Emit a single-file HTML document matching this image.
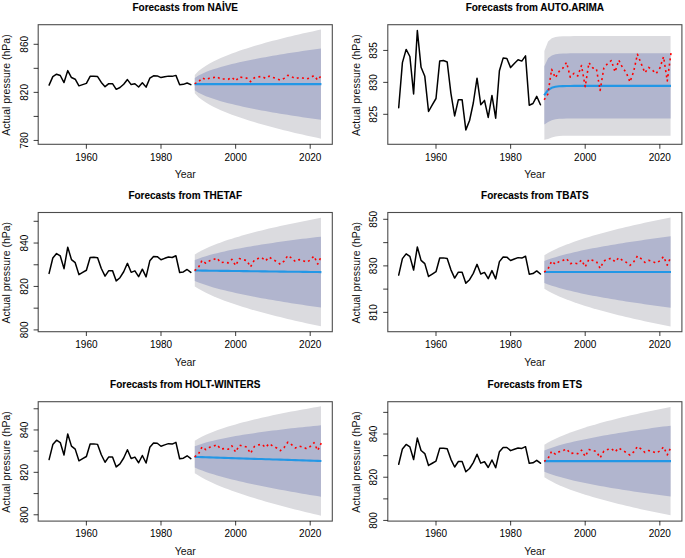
<!DOCTYPE html><html><head><meta charset="utf-8"><style>html,body{margin:0;padding:0;background:#fff;}svg{display:block;}text{font-family:"Liberation Sans",sans-serif;}</style></head><body>
<svg width="685" height="558" viewBox="0 0 685 558">
<rect width="685" height="558" fill="#fff"/>
<polygon fill="#DBDBDF" points="194.78,74.88 198.49,71.06 202.2,68.13 205.91,65.66 209.62,63.48 213.33,61.52 217.04,59.71 220.75,58.02 224.47,56.44 228.18,54.94 231.89,53.52 235.6,52.16 239.31,50.86 243.02,49.6 246.73,48.39 250.44,47.22 254.16,46.08 257.87,44.98 261.58,43.91 265.29,42.87 269,41.85 272.71,40.85 276.42,39.88 280.13,38.93 283.85,38 287.56,37.09 291.27,36.19 294.98,35.31 298.69,34.45 302.4,33.6 306.11,32.77 309.82,31.94 313.53,31.14 317.25,30.34 320.96,29.55 320.96,138.65 317.25,137.86 313.53,137.06 309.82,136.26 306.11,135.43 302.4,134.6 298.69,133.75 294.98,132.89 291.27,132.01 287.56,131.11 283.85,130.2 280.13,129.27 276.42,128.32 272.71,127.35 269,126.35 265.29,125.33 261.58,124.29 257.87,123.22 254.16,122.12 250.44,120.98 246.73,119.81 243.02,118.6 239.31,117.34 235.6,116.04 231.89,114.68 228.18,113.26 224.47,111.76 220.75,110.18 217.04,108.49 213.33,106.68 209.62,104.72 205.91,102.54 202.2,100.07 198.49,97.14 194.78,93.32"/>
<polygon fill="#B1B5CE" points="194.78,78.07 198.49,75.57 202.2,73.66 205.91,72.04 209.62,70.62 213.33,69.33 217.04,68.15 220.75,67.04 224.47,66.01 228.18,65.03 231.89,64.1 235.6,63.21 239.31,62.36 243.02,61.54 246.73,60.75 250.44,59.98 254.16,59.24 257.87,58.52 261.58,57.82 265.29,57.13 269,56.47 272.71,55.82 276.42,55.18 280.13,54.56 283.85,53.95 287.56,53.35 291.27,52.77 294.98,52.19 298.69,51.63 302.4,51.07 306.11,50.53 309.82,49.99 313.53,49.46 317.25,48.94 320.96,48.43 320.96,119.77 317.25,119.26 313.53,118.74 309.82,118.21 306.11,117.67 302.4,117.13 298.69,116.57 294.98,116.01 291.27,115.43 287.56,114.85 283.85,114.25 280.13,113.64 276.42,113.02 272.71,112.38 269,111.73 265.29,111.07 261.58,110.38 257.87,109.68 254.16,108.96 250.44,108.22 246.73,107.45 243.02,106.66 239.31,105.84 235.6,104.99 231.89,104.1 228.18,103.17 224.47,102.19 220.75,101.16 217.04,100.05 213.33,98.87 209.62,97.58 205.91,96.16 202.2,94.54 198.49,92.63 194.78,90.13"/>
<polyline fill="none" stroke="#2297E6" stroke-width="2.1" stroke-linejoin="round" points="194.58,84.1 198.31,84.1 202.04,84.1 205.77,84.1 209.5,84.1 213.23,84.1 216.96,84.1 220.69,84.1 224.42,84.1 228.15,84.1 231.88,84.1 235.61,84.1 239.34,84.1 243.07,84.1 246.8,84.1 250.53,84.1 254.26,84.1 257.99,84.1 261.72,84.1 265.45,84.1 269.18,84.1 272.91,84.1 276.64,84.1 280.37,84.1 284.1,84.1 287.83,84.1 291.56,84.1 295.3,84.1 299.03,84.1 302.76,84.1 306.49,84.1 310.22,84.1 313.95,84.1 317.68,84.1 321.41,84.1"/>
<polyline fill="none" stroke="#000" stroke-width="1.5" stroke-linejoin="round" stroke-linecap="round" points="49.09,85.16 52.82,76.66 56.55,74.17 60.28,75.51 64.01,82.55 67.74,70.63 71.47,77.54 75.2,79.23 78.94,85.86 82.67,84.62 86.4,83.41 90.13,76.34 93.86,76.26 97.59,76.54 101.32,82.43 105.05,86.69 108.78,83.64 112.51,83.64 116.24,89.32 119.97,87.55 123.7,84.26 127.43,79.59 131.16,84.58 134.89,83.77 138.62,86.97 142.35,82.83 146.08,87.12 149.81,78.2 153.54,75.81 157.27,75.88 161,77.6 164.73,76.82 168.46,76.13 172.19,76.37 175.92,75.39 179.65,84.67 183.38,84.35 187.12,83 190.85,84.6"/>
<polyline fill="none" stroke="#FF0000" stroke-width="1.6" stroke-dasharray="2.0 3.3" stroke-linejoin="round" points="194.58,83.62 198.31,82.11 202.04,77.95 205.77,79.55 209.5,78.22 213.23,77.6 216.96,76.67 220.69,79.21 224.42,78.93 228.15,79.33 231.88,77.37 235.61,80.85 239.34,76.97 243.07,77.56 246.8,78.09 250.53,81.64 254.26,77.84 257.99,76.96 261.72,76.43 265.45,78.27 269.18,76.13 272.91,77.54 276.64,78.56 280.37,80.14 284.1,78.35 287.83,75.3 291.56,76.69 295.3,78.61 299.03,77.56 302.76,78.05 306.49,78.97 310.22,77.78 313.95,75.58 317.68,79.99 321.41,75.58"/>
<rect x="38.2" y="24.7" width="294.1" height="119.6" fill="none" stroke="#000" stroke-width="1.1" stroke-opacity="0.7"/>
<line x1="86.4" y1="144.3" x2="86.4" y2="148.7" stroke="#000" stroke-width="1.1" stroke-opacity="0.7"/>
<text x="86.4" y="160.5" font-size="10" text-anchor="middle" fill="#000">1960</text>
<line x1="161" y1="144.3" x2="161" y2="148.7" stroke="#000" stroke-width="1.1" stroke-opacity="0.7"/>
<text x="161" y="160.5" font-size="10" text-anchor="middle" fill="#000">1980</text>
<line x1="235.61" y1="144.3" x2="235.61" y2="148.7" stroke="#000" stroke-width="1.1" stroke-opacity="0.7"/>
<text x="235.61" y="160.5" font-size="10" text-anchor="middle" fill="#000">2000</text>
<line x1="310.22" y1="144.3" x2="310.22" y2="148.7" stroke="#000" stroke-width="1.1" stroke-opacity="0.7"/>
<text x="310.22" y="160.5" font-size="10" text-anchor="middle" fill="#000">2020</text>
<line x1="33.6" y1="140.48" x2="38.2" y2="140.48" stroke="#000" stroke-width="1.1" stroke-opacity="0.7"/>
<text x="27.8" y="140.48" font-size="10" text-anchor="middle" fill="#000" transform="rotate(-90 27.8 140.48)">780</text>
<line x1="33.6" y1="116.44" x2="38.2" y2="116.44" stroke="#000" stroke-width="1.1" stroke-opacity="0.7"/>
<line x1="33.6" y1="92.4" x2="38.2" y2="92.4" stroke="#000" stroke-width="1.1" stroke-opacity="0.7"/>
<text x="27.8" y="92.4" font-size="10" text-anchor="middle" fill="#000" transform="rotate(-90 27.8 92.4)">820</text>
<line x1="33.6" y1="68.36" x2="38.2" y2="68.36" stroke="#000" stroke-width="1.1" stroke-opacity="0.7"/>
<line x1="33.6" y1="44.32" x2="38.2" y2="44.32" stroke="#000" stroke-width="1.1" stroke-opacity="0.7"/>
<text x="27.8" y="44.32" font-size="10" text-anchor="middle" fill="#000" transform="rotate(-90 27.8 44.32)">860</text>
<text x="185.25" y="178.4" font-size="10.5" text-anchor="middle" fill="#111">Year</text>
<text x="10.2" y="85.1" font-size="10.5" text-anchor="middle" fill="#111" transform="rotate(-90 10.2 85.1)">Actual pressure (hPa)</text>
<text x="185.25" y="11.1" font-size="10" font-weight="bold" text-anchor="middle" fill="#000" stroke="#000" stroke-width="0.1">Forecasts from NAİVE</text>
<polygon fill="#DBDBDF" points="544.38,50.93 548.09,41.41 551.8,38.23 555.51,37.01 559.22,36.5 562.93,36.28 566.64,36.18 570.35,36.14 574.07,36.12 577.78,36.11 581.49,36.1 585.2,36.1 588.91,36.1 592.62,36.1 596.33,36.1 600.04,36.1 603.76,36.1 607.47,36.1 611.18,36.1 614.89,36.1 618.6,36.1 622.31,36.1 626.02,36.1 629.73,36.1 633.45,36.1 637.16,36.1 640.87,36.1 644.58,36.1 648.29,36.1 652,36.1 655.71,36.1 659.42,36.1 663.13,36.1 666.85,36.1 670.56,36.1 670.56,135.7 666.85,135.7 663.13,135.7 659.42,135.7 655.71,135.7 652,135.7 648.29,135.7 644.58,135.7 640.87,135.7 637.16,135.7 633.45,135.7 629.73,135.7 626.02,135.7 622.31,135.7 618.6,135.7 614.89,135.7 611.18,135.7 607.47,135.7 603.76,135.7 600.04,135.7 596.33,135.7 592.62,135.7 588.91,135.7 585.2,135.7 581.49,135.7 577.78,135.71 574.07,135.72 570.35,135.74 566.64,135.78 562.93,135.87 559.22,136.08 555.51,136.52 551.8,137.42 548.09,138.94 544.38,139.87"/>
<polygon fill="#B1B5CE" points="544.38,66.31 548.09,58.28 551.8,55.39 555.51,54.22 559.22,53.73 562.93,53.51 566.64,53.41 570.35,53.37 574.07,53.35 577.78,53.34 581.49,53.33 585.2,53.33 588.91,53.33 592.62,53.33 596.33,53.33 600.04,53.33 603.76,53.33 607.47,53.33 611.18,53.33 614.89,53.33 618.6,53.33 622.31,53.33 626.02,53.33 629.73,53.33 633.45,53.33 637.16,53.33 640.87,53.33 644.58,53.33 648.29,53.33 652,53.33 655.71,53.33 659.42,53.33 663.13,53.33 666.85,53.33 670.56,53.33 670.56,118.47 666.85,118.47 663.13,118.47 659.42,118.47 655.71,118.47 652,118.47 648.29,118.47 644.58,118.47 640.87,118.47 637.16,118.47 633.45,118.47 629.73,118.47 626.02,118.47 622.31,118.47 618.6,118.47 614.89,118.47 611.18,118.47 607.47,118.47 603.76,118.47 600.04,118.47 596.33,118.47 592.62,118.47 588.91,118.47 585.2,118.47 581.49,118.47 577.78,118.48 574.07,118.49 570.35,118.5 566.64,118.55 562.93,118.64 559.22,118.85 555.51,119.31 551.8,120.26 548.09,122.07 544.38,124.49"/>
<polyline fill="none" stroke="#2297E6" stroke-width="2.1" stroke-linejoin="round" points="544.18,95.4 547.91,90.18 551.64,87.82 555.37,86.77 559.1,86.29 562.83,86.08 566.56,85.98 570.29,85.94 574.02,85.92 577.75,85.91 581.48,85.9 585.21,85.9 588.94,85.9 592.67,85.9 596.4,85.9 600.13,85.9 603.86,85.9 607.59,85.9 611.32,85.9 615.05,85.9 618.78,85.9 622.51,85.9 626.24,85.9 629.97,85.9 633.7,85.9 637.43,85.9 641.16,85.9 644.9,85.9 648.63,85.9 652.36,85.9 656.09,85.9 659.82,85.9 663.55,85.9 667.28,85.9 671.01,85.9"/>
<polyline fill="none" stroke="#000" stroke-width="1.5" stroke-linejoin="round" stroke-linecap="round" points="398.69,107.8 402.42,62.6 406.15,49.4 409.88,56.5 413.61,93.9 417.34,30.6 421.07,67.3 424.8,76.3 428.54,111.5 432.27,104.9 436,98.5 439.73,60.9 443.46,60.5 447.19,62 450.92,93.3 454.65,115.9 458.38,99.7 462.11,99.7 465.84,129.9 469.57,120.5 473.3,103 477.03,78.2 480.76,104.7 484.49,100.4 488.22,117.4 491.95,95.4 495.68,118.2 499.41,70.8 503.14,58.1 506.87,58.5 510.6,67.6 514.33,63.5 518.06,59.8 521.79,61.1 525.52,55.9 529.25,105.2 532.98,103.5 536.72,96.3 540.45,104.8"/>
<polyline fill="none" stroke="#FF0000" stroke-width="1.6" stroke-dasharray="2.0 3.3" stroke-linejoin="round" points="544.18,99.8 547.91,94 551.64,69.3 555.37,77.9 559.1,71.4 562.83,68.2 566.56,62.4 570.29,77.2 574.02,73.3 577.75,76 581.48,65.5 585.21,86.7 588.94,62.7 592.67,67.9 596.4,68.6 600.13,90.4 603.86,67.9 607.59,63.6 611.32,60.5 615.05,72 618.78,60.2 622.51,67.6 626.24,72.6 629.97,82 633.7,71.4 637.43,54.2 641.16,63.6 644.9,72.8 648.63,67.4 652.36,70.1 656.09,73.7 659.82,68.2 663.55,56.7 667.28,81 671.01,52.9"/>
<rect x="387.8" y="24.7" width="294.1" height="119.6" fill="none" stroke="#000" stroke-width="1.1" stroke-opacity="0.7"/>
<line x1="436" y1="144.3" x2="436" y2="148.7" stroke="#000" stroke-width="1.1" stroke-opacity="0.7"/>
<text x="436" y="160.5" font-size="10" text-anchor="middle" fill="#000">1960</text>
<line x1="510.6" y1="144.3" x2="510.6" y2="148.7" stroke="#000" stroke-width="1.1" stroke-opacity="0.7"/>
<text x="510.6" y="160.5" font-size="10" text-anchor="middle" fill="#000">1980</text>
<line x1="585.21" y1="144.3" x2="585.21" y2="148.7" stroke="#000" stroke-width="1.1" stroke-opacity="0.7"/>
<text x="585.21" y="160.5" font-size="10" text-anchor="middle" fill="#000">2000</text>
<line x1="659.82" y1="144.3" x2="659.82" y2="148.7" stroke="#000" stroke-width="1.1" stroke-opacity="0.7"/>
<text x="659.82" y="160.5" font-size="10" text-anchor="middle" fill="#000">2020</text>
<line x1="383.2" y1="114.34" x2="387.8" y2="114.34" stroke="#000" stroke-width="1.1" stroke-opacity="0.7"/>
<text x="377.4" y="114.34" font-size="10" text-anchor="middle" fill="#000" transform="rotate(-90 377.4 114.34)">825</text>
<line x1="383.2" y1="82.4" x2="387.8" y2="82.4" stroke="#000" stroke-width="1.1" stroke-opacity="0.7"/>
<text x="377.4" y="82.4" font-size="10" text-anchor="middle" fill="#000" transform="rotate(-90 377.4 82.4)">830</text>
<line x1="383.2" y1="50.47" x2="387.8" y2="50.47" stroke="#000" stroke-width="1.1" stroke-opacity="0.7"/>
<text x="377.4" y="50.47" font-size="10" text-anchor="middle" fill="#000" transform="rotate(-90 377.4 50.47)">835</text>
<text x="534.85" y="178.4" font-size="10.5" text-anchor="middle" fill="#111">Year</text>
<text x="359.8" y="85.1" font-size="10.5" text-anchor="middle" fill="#111" transform="rotate(-90 359.8 85.1)">Actual pressure (hPa)</text>
<text x="534.85" y="11.1" font-size="10" font-weight="bold" text-anchor="middle" fill="#000" stroke="#000" stroke-width="0.1">Forecasts from AUTO.ARIMA</text>
<polygon fill="#DBDBDF" points="194.78,254.6 198.49,252.33 202.2,250.32 205.91,248.5 209.62,246.83 213.33,245.27 217.04,243.81 220.75,242.43 224.47,241.12 228.18,239.86 231.89,238.66 235.6,237.51 239.31,236.39 243.02,235.32 246.73,234.28 250.44,233.27 254.16,232.29 257.87,231.33 261.58,230.4 265.29,229.49 269,228.61 272.71,227.74 276.42,226.89 280.13,226.06 283.85,225.25 287.56,224.45 291.27,223.67 294.98,222.9 298.69,222.14 302.4,221.4 306.11,220.67 309.82,219.95 313.53,219.24 317.25,218.54 320.96,217.86 320.96,326.34 317.25,325.56 313.53,324.77 309.82,323.97 306.11,323.15 302.4,322.33 298.69,321.49 294.98,320.64 291.27,319.78 287.56,318.9 283.85,318.01 280.13,317.1 276.42,316.18 272.71,315.24 269,314.28 265.29,313.3 261.58,312.29 257.87,311.27 254.16,310.22 250.44,309.14 246.73,308.04 243.02,306.9 239.31,305.73 235.6,304.53 231.89,303.28 228.18,301.98 224.47,300.64 220.75,299.23 217.04,297.75 213.33,296.2 209.62,294.55 205.91,292.78 202.2,290.87 198.49,288.77 194.78,286.4"/>
<polygon fill="#B1B5CE" points="194.78,260.1 198.49,258.63 202.2,257.34 205.91,256.16 209.62,255.09 213.33,254.08 217.04,253.14 220.75,252.26 224.47,251.41 228.18,250.61 231.89,249.84 235.6,249.1 239.31,248.39 243.02,247.7 246.73,247.04 250.44,246.39 254.16,245.77 257.87,245.16 261.58,244.57 265.29,243.99 269,243.43 272.71,242.88 276.42,242.34 280.13,241.81 283.85,241.3 287.56,240.79 291.27,240.29 294.98,239.81 298.69,239.33 302.4,238.86 306.11,238.4 309.82,237.95 313.53,237.5 317.25,237.06 320.96,236.63 320.96,307.57 317.25,307.05 313.53,306.51 309.82,305.97 306.11,305.42 302.4,304.87 298.69,304.31 294.98,303.73 291.27,303.15 287.56,302.56 283.85,301.96 280.13,301.35 276.42,300.73 272.71,300.1 269,299.45 265.29,298.8 261.58,298.13 257.87,297.44 254.16,296.74 250.44,296.02 246.73,295.28 243.02,294.52 239.31,293.74 235.6,292.93 231.89,292.1 228.18,291.24 224.47,290.34 220.75,289.4 217.04,288.42 213.33,287.39 209.62,286.29 205.91,285.12 202.2,283.85 198.49,282.46 194.78,280.9"/>
<polyline fill="none" stroke="#2297E6" stroke-width="2.1" stroke-linejoin="round" points="194.58,270.5 198.31,270.55 202.04,270.59 205.77,270.64 209.5,270.69 213.23,270.74 216.96,270.78 220.69,270.83 224.42,270.88 228.15,270.92 231.88,270.97 235.61,271.02 239.34,271.06 243.07,271.11 246.8,271.16 250.53,271.21 254.26,271.25 257.99,271.3 261.72,271.35 265.45,271.39 269.18,271.44 272.91,271.49 276.64,271.54 280.37,271.58 284.1,271.63 287.83,271.68 291.56,271.72 295.3,271.77 299.03,271.82 302.76,271.86 306.49,271.91 310.22,271.96 313.95,272.01 317.68,272.05 321.41,272.1"/>
<polyline fill="none" stroke="#000" stroke-width="1.5" stroke-linejoin="round" stroke-linecap="round" points="49.09,273.39 52.82,258.02 56.55,253.53 60.28,255.95 64.01,268.66 67.74,247.14 71.47,259.62 75.2,262.68 78.94,274.65 82.67,272.4 86.4,270.23 90.13,257.44 93.86,257.31 97.59,257.82 101.32,268.46 105.05,276.14 108.78,270.63 112.51,270.63 116.24,280.9 119.97,277.71 123.7,271.76 127.43,263.32 131.16,272.33 134.89,270.87 138.62,276.65 142.35,269.17 146.08,276.92 149.81,260.81 153.54,256.49 157.27,256.63 161,259.72 164.73,258.33 168.46,257.07 172.19,257.51 175.92,255.74 179.65,272.5 183.38,271.93 187.12,269.48 190.85,272.37"/>
<polyline fill="none" stroke="#FF0000" stroke-width="1.6" stroke-dasharray="2.0 3.3" stroke-linejoin="round" points="194.58,270.6 198.31,267.88 202.04,260.37 205.77,263.26 209.5,260.84 213.23,259.72 216.96,258.05 220.69,262.64 224.42,262.13 228.15,262.85 231.88,259.31 235.61,265.6 239.34,258.6 243.07,259.65 246.8,260.6 250.53,267.03 254.26,260.16 257.99,258.56 261.72,257.61 265.45,260.94 269.18,257.07 272.91,259.62 276.64,261.45 280.37,264.31 284.1,261.08 287.83,255.57 291.56,258.09 295.3,261.56 299.03,259.65 302.76,260.54 306.49,262.2 310.22,260.06 313.95,256.08 317.68,264.04 321.41,256.08"/>
<rect x="38.2" y="212.5" width="294.1" height="119.2" fill="none" stroke="#000" stroke-width="1.1" stroke-opacity="0.7"/>
<line x1="86.4" y1="331.7" x2="86.4" y2="336.1" stroke="#000" stroke-width="1.1" stroke-opacity="0.7"/>
<text x="86.4" y="347.9" font-size="10" text-anchor="middle" fill="#000">1960</text>
<line x1="161" y1="331.7" x2="161" y2="336.1" stroke="#000" stroke-width="1.1" stroke-opacity="0.7"/>
<text x="161" y="347.9" font-size="10" text-anchor="middle" fill="#000">1980</text>
<line x1="235.61" y1="331.7" x2="235.61" y2="336.1" stroke="#000" stroke-width="1.1" stroke-opacity="0.7"/>
<text x="235.61" y="347.9" font-size="10" text-anchor="middle" fill="#000">2000</text>
<line x1="310.22" y1="331.7" x2="310.22" y2="336.1" stroke="#000" stroke-width="1.1" stroke-opacity="0.7"/>
<text x="310.22" y="347.9" font-size="10" text-anchor="middle" fill="#000">2020</text>
<line x1="33.6" y1="329.9" x2="38.2" y2="329.9" stroke="#000" stroke-width="1.1" stroke-opacity="0.7"/>
<text x="27.8" y="329.9" font-size="10" text-anchor="middle" fill="#000" transform="rotate(-90 27.8 329.9)">800</text>
<line x1="33.6" y1="308.18" x2="38.2" y2="308.18" stroke="#000" stroke-width="1.1" stroke-opacity="0.7"/>
<line x1="33.6" y1="286.47" x2="38.2" y2="286.47" stroke="#000" stroke-width="1.1" stroke-opacity="0.7"/>
<text x="27.8" y="286.47" font-size="10" text-anchor="middle" fill="#000" transform="rotate(-90 27.8 286.47)">820</text>
<line x1="33.6" y1="264.75" x2="38.2" y2="264.75" stroke="#000" stroke-width="1.1" stroke-opacity="0.7"/>
<line x1="33.6" y1="243.04" x2="38.2" y2="243.04" stroke="#000" stroke-width="1.1" stroke-opacity="0.7"/>
<text x="27.8" y="243.04" font-size="10" text-anchor="middle" fill="#000" transform="rotate(-90 27.8 243.04)">840</text>
<line x1="33.6" y1="221.32" x2="38.2" y2="221.32" stroke="#000" stroke-width="1.1" stroke-opacity="0.7"/>
<text x="185.25" y="365.8" font-size="10.5" text-anchor="middle" fill="#111">Year</text>
<text x="10.2" y="272.7" font-size="10.5" text-anchor="middle" fill="#111" transform="rotate(-90 10.2 272.7)">Actual pressure (hPa)</text>
<text x="185.25" y="198.9" font-size="10" font-weight="bold" text-anchor="middle" fill="#000" stroke="#000" stroke-width="0.1">Forecasts from THETAF</text>
<polygon fill="#DBDBDF" points="544.38,255.3 548.09,253.08 551.8,251.09 555.51,249.28 559.22,247.6 562.93,246.03 566.64,244.55 570.35,243.14 574.07,241.8 577.78,240.52 581.49,239.29 585.2,238.1 588.91,236.95 592.62,235.84 596.33,234.77 600.04,233.72 603.76,232.7 607.47,231.7 611.18,230.74 614.89,229.79 618.6,228.86 622.31,227.95 626.02,227.06 629.73,226.19 633.45,225.34 637.16,224.5 640.87,223.67 644.58,222.86 648.29,222.06 652,221.28 655.71,220.5 659.42,219.74 663.13,218.99 666.85,218.25 670.56,217.52 670.56,326.48 666.85,325.75 663.13,325.01 659.42,324.26 655.71,323.5 652,322.72 648.29,321.94 644.58,321.14 640.87,320.33 637.16,319.5 633.45,318.66 629.73,317.81 626.02,316.94 622.31,316.05 618.6,315.14 614.89,314.21 611.18,313.26 607.47,312.3 603.76,311.3 600.04,310.28 596.33,309.23 592.62,308.16 588.91,307.05 585.2,305.9 581.49,304.71 577.78,303.48 574.07,302.2 570.35,300.86 566.64,299.45 562.93,297.97 559.22,296.4 555.51,294.72 551.8,292.91 548.09,290.92 544.38,288.7"/>
<polygon fill="#B1B5CE" points="544.38,261.08 548.09,259.62 551.8,258.33 555.51,257.14 559.22,256.04 562.93,255.01 566.64,254.05 570.35,253.13 574.07,252.25 577.78,251.41 581.49,250.61 585.2,249.83 588.91,249.08 592.62,248.35 596.33,247.65 600.04,246.96 603.76,246.3 607.47,245.65 611.18,245.01 614.89,244.39 618.6,243.79 622.31,243.19 626.02,242.61 629.73,242.04 633.45,241.48 637.16,240.93 640.87,240.39 644.58,239.86 648.29,239.34 652,238.83 655.71,238.32 659.42,237.82 663.13,237.33 666.85,236.85 670.56,236.37 670.56,307.63 666.85,307.15 663.13,306.67 659.42,306.18 655.71,305.68 652,305.17 648.29,304.66 644.58,304.14 640.87,303.61 637.16,303.07 633.45,302.52 629.73,301.96 626.02,301.39 622.31,300.81 618.6,300.21 614.89,299.61 611.18,298.99 607.47,298.35 603.76,297.7 600.04,297.04 596.33,296.35 592.62,295.65 588.91,294.92 585.2,294.17 581.49,293.39 577.78,292.59 574.07,291.75 570.35,290.87 566.64,289.95 562.93,288.99 559.22,287.96 555.51,286.86 551.8,285.67 548.09,284.38 544.38,282.92"/>
<polyline fill="none" stroke="#2297E6" stroke-width="2.1" stroke-linejoin="round" points="544.18,272 547.91,272 551.64,272 555.37,272 559.1,272 562.83,272 566.56,272 570.29,272 574.02,272 577.75,272 581.48,272 585.21,272 588.94,272 592.67,272 596.4,272 600.13,272 603.86,272 607.59,272 611.32,272 615.05,272 618.78,272 622.51,272 626.24,272 629.97,272 633.7,272 637.43,272 641.16,272 644.9,272 648.63,272 652.36,272 656.09,272 659.82,272 663.55,272 667.28,272 671.01,272"/>
<polyline fill="none" stroke="#000" stroke-width="1.5" stroke-linejoin="round" stroke-linecap="round" points="398.69,275.11 402.42,258.65 406.15,253.84 409.88,256.42 413.61,270.05 417.34,246.99 421.07,260.36 424.8,263.64 428.54,276.46 432.27,274.06 436,271.73 439.73,258.03 443.46,257.88 447.19,258.43 450.92,269.83 454.65,278.07 458.38,272.16 462.11,272.16 465.84,283.17 469.57,279.74 473.3,273.37 477.03,264.33 480.76,273.98 484.49,272.42 488.22,278.61 491.95,270.6 495.68,278.9 499.41,261.63 503.14,257.01 506.87,257.15 510.6,260.47 514.33,258.97 518.06,257.63 521.79,258.1 525.52,256.21 529.25,274.17 532.98,273.55 536.72,270.92 540.45,274.02"/>
<polyline fill="none" stroke="#FF0000" stroke-width="1.6" stroke-dasharray="2.0 3.3" stroke-linejoin="round" points="544.18,272.13 547.91,269.21 551.64,261.16 555.37,264.26 559.1,261.67 562.83,260.47 566.56,258.68 570.29,263.6 574.02,263.05 577.75,263.82 581.48,260.03 585.21,266.77 588.94,259.27 592.67,260.39 596.4,261.42 600.13,268.3 603.86,260.94 607.59,259.23 611.32,258.21 615.05,261.78 618.78,257.63 622.51,260.36 626.24,262.33 629.97,265.39 633.7,261.93 637.43,256.02 641.16,258.72 644.9,262.44 648.63,260.39 652.36,261.34 656.09,263.13 659.82,260.83 663.55,256.57 667.28,265.09 671.01,256.57"/>
<rect x="387.8" y="212.5" width="294.1" height="119.2" fill="none" stroke="#000" stroke-width="1.1" stroke-opacity="0.7"/>
<line x1="436" y1="331.7" x2="436" y2="336.1" stroke="#000" stroke-width="1.1" stroke-opacity="0.7"/>
<text x="436" y="347.9" font-size="10" text-anchor="middle" fill="#000">1960</text>
<line x1="510.6" y1="331.7" x2="510.6" y2="336.1" stroke="#000" stroke-width="1.1" stroke-opacity="0.7"/>
<text x="510.6" y="347.9" font-size="10" text-anchor="middle" fill="#000">1980</text>
<line x1="585.21" y1="331.7" x2="585.21" y2="336.1" stroke="#000" stroke-width="1.1" stroke-opacity="0.7"/>
<text x="585.21" y="347.9" font-size="10" text-anchor="middle" fill="#000">2000</text>
<line x1="659.82" y1="331.7" x2="659.82" y2="336.1" stroke="#000" stroke-width="1.1" stroke-opacity="0.7"/>
<text x="659.82" y="347.9" font-size="10" text-anchor="middle" fill="#000">2020</text>
<line x1="383.2" y1="312.4" x2="387.8" y2="312.4" stroke="#000" stroke-width="1.1" stroke-opacity="0.7"/>
<text x="377.4" y="312.4" font-size="10" text-anchor="middle" fill="#000" transform="rotate(-90 377.4 312.4)">810</text>
<line x1="383.2" y1="289.13" x2="387.8" y2="289.13" stroke="#000" stroke-width="1.1" stroke-opacity="0.7"/>
<line x1="383.2" y1="265.86" x2="387.8" y2="265.86" stroke="#000" stroke-width="1.1" stroke-opacity="0.7"/>
<text x="377.4" y="265.86" font-size="10" text-anchor="middle" fill="#000" transform="rotate(-90 377.4 265.86)">830</text>
<line x1="383.2" y1="242.59" x2="387.8" y2="242.59" stroke="#000" stroke-width="1.1" stroke-opacity="0.7"/>
<line x1="383.2" y1="219.32" x2="387.8" y2="219.32" stroke="#000" stroke-width="1.1" stroke-opacity="0.7"/>
<text x="377.4" y="219.32" font-size="10" text-anchor="middle" fill="#000" transform="rotate(-90 377.4 219.32)">850</text>
<text x="534.85" y="365.8" font-size="10.5" text-anchor="middle" fill="#111">Year</text>
<text x="359.8" y="272.7" font-size="10.5" text-anchor="middle" fill="#111" transform="rotate(-90 359.8 272.7)">Actual pressure (hPa)</text>
<text x="534.85" y="198.9" font-size="10" font-weight="bold" text-anchor="middle" fill="#000" stroke="#000" stroke-width="0.1">Forecasts from TBATS</text>
<polygon fill="#DBDBDF" points="194.78,440.65 198.49,438.47 202.2,436.55 205.91,434.81 209.62,433.22 213.33,431.73 217.04,430.35 220.75,429.04 224.47,427.8 228.18,426.62 231.89,425.49 235.6,424.4 239.31,423.36 243.02,422.36 246.73,421.39 250.44,420.45 254.16,419.54 257.87,418.65 261.58,417.79 265.29,416.95 269,416.14 272.71,415.34 276.42,414.56 280.13,413.8 283.85,413.06 287.56,412.33 291.27,411.62 294.98,410.92 298.69,410.24 302.4,409.56 306.11,408.9 309.82,408.26 313.53,407.62 317.25,406.99 320.96,406.37 320.96,515.63 317.25,514.77 313.53,513.9 309.82,513.02 306.11,512.13 302.4,511.23 298.69,510.32 294.98,509.39 291.27,508.45 287.56,507.5 283.85,506.53 280.13,505.54 276.42,504.54 272.71,503.52 269,502.49 265.29,501.43 261.58,500.35 257.87,499.25 254.16,498.12 250.44,496.97 246.73,495.79 243.02,494.58 239.31,493.33 235.6,492.05 231.89,490.72 228.18,489.35 224.47,487.93 220.75,486.45 217.04,484.9 213.33,483.27 209.62,481.55 205.91,479.71 202.2,477.73 198.49,475.57 194.78,473.15"/>
<polygon fill="#B1B5CE" points="194.78,446.27 198.49,444.89 202.2,443.67 205.91,442.58 209.62,441.58 213.33,440.65 217.04,439.78 220.75,438.97 224.47,438.2 228.18,437.47 231.89,436.77 235.6,436.11 239.31,435.47 243.02,434.85 246.73,434.26 250.44,433.69 254.16,433.13 257.87,432.59 261.58,432.07 265.29,431.57 269,431.08 272.71,430.6 276.42,430.13 280.13,429.67 283.85,429.23 287.56,428.8 291.27,428.37 294.98,427.96 298.69,427.55 302.4,427.15 306.11,426.76 309.82,426.38 313.53,426 317.25,425.64 320.96,425.27 320.96,496.73 317.25,496.12 313.53,495.51 309.82,494.9 306.11,494.27 302.4,493.64 298.69,493 294.98,492.36 291.27,491.7 287.56,491.03 283.85,490.36 280.13,489.67 276.42,488.98 272.71,488.27 269,487.55 265.29,486.81 261.58,486.07 257.87,485.31 254.16,484.53 250.44,483.73 246.73,482.92 243.02,482.08 239.31,481.23 235.6,480.35 231.89,479.44 228.18,478.5 224.47,477.53 220.75,476.52 217.04,475.46 213.33,474.36 209.62,473.19 205.91,471.94 202.2,470.61 198.49,469.15 194.78,467.53"/>
<polyline fill="none" stroke="#2297E6" stroke-width="2.1" stroke-linejoin="round" points="194.58,456.9 198.31,457.02 202.04,457.14 205.77,457.26 209.5,457.38 213.23,457.5 216.96,457.62 220.69,457.74 224.42,457.86 228.15,457.99 231.88,458.11 235.61,458.23 239.34,458.35 243.07,458.47 246.8,458.59 250.53,458.71 254.26,458.83 257.99,458.95 261.72,459.07 265.45,459.19 269.18,459.31 272.91,459.43 276.64,459.55 280.37,459.67 284.1,459.79 287.83,459.91 291.56,460.04 295.3,460.16 299.03,460.28 302.76,460.4 306.49,460.52 310.22,460.64 313.95,460.76 317.68,460.88 321.41,461"/>
<polyline fill="none" stroke="#000" stroke-width="1.5" stroke-linejoin="round" stroke-linecap="round" points="49.09,459.58 52.82,444.58 56.55,440.2 60.28,442.55 64.01,454.97 67.74,433.96 71.47,446.14 75.2,449.13 78.94,460.81 82.67,458.62 86.4,456.49 90.13,444.01 93.86,443.88 97.59,444.38 101.32,454.77 105.05,462.27 108.78,456.89 112.51,456.89 116.24,466.92 119.97,463.8 123.7,457.99 127.43,449.76 131.16,458.55 134.89,457.12 138.62,462.77 142.35,455.47 146.08,463.03 149.81,447.3 153.54,443.08 157.27,443.22 161,446.24 164.73,444.88 168.46,443.65 172.19,444.08 175.92,442.35 179.65,458.72 183.38,458.15 187.12,455.76 190.85,458.59"/>
<polyline fill="none" stroke="#FF0000" stroke-width="1.6" stroke-dasharray="2.0 3.3" stroke-linejoin="round" points="194.58,456.86 198.31,454.2 202.04,446.87 205.77,449.69 209.5,447.33 213.23,446.24 216.96,444.61 220.69,449.09 224.42,448.59 228.15,449.29 231.88,445.84 235.61,451.98 239.34,445.14 243.07,446.17 246.8,447.1 250.53,453.37 254.26,446.67 257.99,445.11 261.72,444.18 265.45,447.43 269.18,443.65 272.91,446.14 276.64,447.93 280.37,450.72 284.1,447.57 287.83,442.19 291.56,444.64 295.3,448.03 299.03,446.17 302.76,447.03 306.49,448.66 310.22,446.57 313.95,442.69 317.68,450.45 321.41,442.69"/>
<rect x="38.2" y="401.7" width="294.1" height="119.4" fill="none" stroke="#000" stroke-width="1.1" stroke-opacity="0.7"/>
<line x1="86.4" y1="521.1" x2="86.4" y2="525.5" stroke="#000" stroke-width="1.1" stroke-opacity="0.7"/>
<text x="86.4" y="537.3" font-size="10" text-anchor="middle" fill="#000">1960</text>
<line x1="161" y1="521.1" x2="161" y2="525.5" stroke="#000" stroke-width="1.1" stroke-opacity="0.7"/>
<text x="161" y="537.3" font-size="10" text-anchor="middle" fill="#000">1980</text>
<line x1="235.61" y1="521.1" x2="235.61" y2="525.5" stroke="#000" stroke-width="1.1" stroke-opacity="0.7"/>
<text x="235.61" y="537.3" font-size="10" text-anchor="middle" fill="#000">2000</text>
<line x1="310.22" y1="521.1" x2="310.22" y2="525.5" stroke="#000" stroke-width="1.1" stroke-opacity="0.7"/>
<text x="310.22" y="537.3" font-size="10" text-anchor="middle" fill="#000">2020</text>
<line x1="33.6" y1="514.75" x2="38.2" y2="514.75" stroke="#000" stroke-width="1.1" stroke-opacity="0.7"/>
<text x="27.8" y="514.75" font-size="10" text-anchor="middle" fill="#000" transform="rotate(-90 27.8 514.75)">800</text>
<line x1="33.6" y1="493.55" x2="38.2" y2="493.55" stroke="#000" stroke-width="1.1" stroke-opacity="0.7"/>
<line x1="33.6" y1="472.35" x2="38.2" y2="472.35" stroke="#000" stroke-width="1.1" stroke-opacity="0.7"/>
<text x="27.8" y="472.35" font-size="10" text-anchor="middle" fill="#000" transform="rotate(-90 27.8 472.35)">820</text>
<line x1="33.6" y1="451.15" x2="38.2" y2="451.15" stroke="#000" stroke-width="1.1" stroke-opacity="0.7"/>
<line x1="33.6" y1="429.95" x2="38.2" y2="429.95" stroke="#000" stroke-width="1.1" stroke-opacity="0.7"/>
<text x="27.8" y="429.95" font-size="10" text-anchor="middle" fill="#000" transform="rotate(-90 27.8 429.95)">840</text>
<line x1="33.6" y1="408.75" x2="38.2" y2="408.75" stroke="#000" stroke-width="1.1" stroke-opacity="0.7"/>
<text x="185.25" y="555.2" font-size="10.5" text-anchor="middle" fill="#111">Year</text>
<text x="10.2" y="462" font-size="10.5" text-anchor="middle" fill="#111" transform="rotate(-90 10.2 462)">Actual pressure (hPa)</text>
<text x="185.25" y="388.1" font-size="10" font-weight="bold" text-anchor="middle" fill="#000" stroke="#000" stroke-width="0.1">Forecasts from HOLT-WINTERS</text>
<polygon fill="#DBDBDF" points="544.38,444.85 548.09,442.59 551.8,440.58 555.51,438.74 559.22,437.05 562.93,435.47 566.64,433.98 570.35,432.57 574.07,431.22 577.78,429.93 581.49,428.7 585.2,427.51 588.91,426.36 592.62,425.24 596.33,424.16 600.04,423.11 603.76,422.09 607.47,421.1 611.18,420.13 614.89,419.18 618.6,418.25 622.31,417.34 626.02,416.45 629.73,415.58 633.45,414.73 637.16,413.89 640.87,413.06 644.58,412.25 648.29,411.45 652,410.67 655.71,409.89 659.42,409.13 663.13,408.38 666.85,407.64 670.56,406.91 670.56,515.29 666.85,514.56 663.13,513.82 659.42,513.07 655.71,512.31 652,511.53 648.29,510.75 644.58,509.95 640.87,509.14 637.16,508.31 633.45,507.47 629.73,506.62 626.02,505.75 622.31,504.86 618.6,503.95 614.89,503.02 611.18,502.07 607.47,501.1 603.76,500.11 600.04,499.09 596.33,498.04 592.62,496.96 588.91,495.84 585.2,494.69 581.49,493.5 577.78,492.27 574.07,490.98 570.35,489.63 566.64,488.22 562.93,486.73 559.22,485.15 555.51,483.46 551.8,481.62 548.09,479.61 544.38,477.35"/>
<polygon fill="#B1B5CE" points="544.38,450.47 548.09,448.99 551.8,447.68 555.51,446.48 559.22,445.37 562.93,444.34 566.64,443.36 570.35,442.44 574.07,441.56 577.78,440.72 581.49,439.91 585.2,439.13 588.91,438.38 592.62,437.65 596.33,436.94 600.04,436.26 603.76,435.59 607.47,434.94 611.18,434.3 614.89,433.68 618.6,433.08 622.31,432.48 626.02,431.9 629.73,431.33 633.45,430.77 637.16,430.22 640.87,429.68 644.58,429.15 648.29,428.63 652,428.12 655.71,427.61 659.42,427.11 663.13,426.62 666.85,426.14 670.56,425.66 670.56,496.54 666.85,496.06 663.13,495.58 659.42,495.09 655.71,494.59 652,494.08 648.29,493.57 644.58,493.05 640.87,492.52 637.16,491.98 633.45,491.43 629.73,490.87 626.02,490.3 622.31,489.72 618.6,489.12 614.89,488.52 611.18,487.9 607.47,487.26 603.76,486.61 600.04,485.94 596.33,485.26 592.62,484.55 588.91,483.82 585.2,483.07 581.49,482.29 577.78,481.48 574.07,480.64 570.35,479.76 566.64,478.84 562.93,477.86 559.22,476.83 555.51,475.72 551.8,474.52 548.09,473.21 544.38,471.73"/>
<polyline fill="none" stroke="#2297E6" stroke-width="2.1" stroke-linejoin="round" points="544.18,461.1 547.91,461.1 551.64,461.1 555.37,461.1 559.1,461.1 562.83,461.1 566.56,461.1 570.29,461.1 574.02,461.1 577.75,461.1 581.48,461.1 585.21,461.1 588.94,461.1 592.67,461.1 596.4,461.1 600.13,461.1 603.86,461.1 607.59,461.1 611.32,461.1 615.05,461.1 618.78,461.1 622.51,461.1 626.24,461.1 629.97,461.1 633.7,461.1 637.43,461.1 641.16,461.1 644.9,461.1 648.63,461.1 652.36,461.1 656.09,461.1 659.82,461.1 663.55,461.1 667.28,461.1 671.01,461.1"/>
<polyline fill="none" stroke="#000" stroke-width="1.5" stroke-linejoin="round" stroke-linecap="round" points="398.69,464.22 402.42,448.93 406.15,444.46 409.88,446.86 413.61,459.52 417.34,438.1 421.07,450.52 424.8,453.56 428.54,465.48 432.27,463.24 436,461.08 439.73,448.35 443.46,448.22 447.19,448.72 450.92,459.32 454.65,466.96 458.38,461.48 462.11,461.48 465.84,471.7 469.57,468.52 473.3,462.6 477.03,454.21 480.76,463.17 484.49,461.72 488.22,467.47 491.95,460.03 495.68,467.74 499.41,451.7 503.14,447.4 506.87,447.54 510.6,450.62 514.33,449.23 518.06,447.98 521.79,448.42 525.52,446.66 529.25,463.34 532.98,462.77 536.72,460.33 540.45,463.21"/>
<polyline fill="none" stroke="#FF0000" stroke-width="1.6" stroke-dasharray="2.0 3.3" stroke-linejoin="round" points="544.18,461.45 547.91,458.74 551.64,451.26 555.37,454.14 559.1,451.74 562.83,450.62 566.56,448.96 570.29,453.53 574.02,453.02 577.75,453.73 581.48,450.21 585.21,456.47 588.94,449.5 592.67,450.55 596.4,451.5 600.13,457.9 603.86,451.06 607.59,449.47 611.32,448.52 615.05,451.84 618.78,447.98 622.51,450.52 626.24,452.35 629.97,455.19 633.7,451.97 637.43,446.49 641.16,449 644.9,452.45 648.63,450.55 652.36,451.43 656.09,453.09 659.82,450.96 663.55,447 667.28,454.92 671.01,447"/>
<rect x="387.8" y="401.7" width="294.1" height="119.4" fill="none" stroke="#000" stroke-width="1.1" stroke-opacity="0.7"/>
<line x1="436" y1="521.1" x2="436" y2="525.5" stroke="#000" stroke-width="1.1" stroke-opacity="0.7"/>
<text x="436" y="537.3" font-size="10" text-anchor="middle" fill="#000">1960</text>
<line x1="510.6" y1="521.1" x2="510.6" y2="525.5" stroke="#000" stroke-width="1.1" stroke-opacity="0.7"/>
<text x="510.6" y="537.3" font-size="10" text-anchor="middle" fill="#000">1980</text>
<line x1="585.21" y1="521.1" x2="585.21" y2="525.5" stroke="#000" stroke-width="1.1" stroke-opacity="0.7"/>
<text x="585.21" y="537.3" font-size="10" text-anchor="middle" fill="#000">2000</text>
<line x1="659.82" y1="521.1" x2="659.82" y2="525.5" stroke="#000" stroke-width="1.1" stroke-opacity="0.7"/>
<text x="659.82" y="537.3" font-size="10" text-anchor="middle" fill="#000">2020</text>
<line x1="383.2" y1="520.47" x2="387.8" y2="520.47" stroke="#000" stroke-width="1.1" stroke-opacity="0.7"/>
<text x="377.4" y="520.47" font-size="10" text-anchor="middle" fill="#000" transform="rotate(-90 377.4 520.47)">800</text>
<line x1="383.2" y1="498.86" x2="387.8" y2="498.86" stroke="#000" stroke-width="1.1" stroke-opacity="0.7"/>
<line x1="383.2" y1="477.24" x2="387.8" y2="477.24" stroke="#000" stroke-width="1.1" stroke-opacity="0.7"/>
<text x="377.4" y="477.24" font-size="10" text-anchor="middle" fill="#000" transform="rotate(-90 377.4 477.24)">820</text>
<line x1="383.2" y1="455.63" x2="387.8" y2="455.63" stroke="#000" stroke-width="1.1" stroke-opacity="0.7"/>
<line x1="383.2" y1="434.01" x2="387.8" y2="434.01" stroke="#000" stroke-width="1.1" stroke-opacity="0.7"/>
<text x="377.4" y="434.01" font-size="10" text-anchor="middle" fill="#000" transform="rotate(-90 377.4 434.01)">840</text>
<line x1="383.2" y1="412.4" x2="387.8" y2="412.4" stroke="#000" stroke-width="1.1" stroke-opacity="0.7"/>
<text x="534.85" y="555.2" font-size="10.5" text-anchor="middle" fill="#111">Year</text>
<text x="359.8" y="462" font-size="10.5" text-anchor="middle" fill="#111" transform="rotate(-90 359.8 462)">Actual pressure (hPa)</text>
<text x="534.85" y="388.1" font-size="10" font-weight="bold" text-anchor="middle" fill="#000" stroke="#000" stroke-width="0.1">Forecasts from ETS</text>
</svg></body></html>
